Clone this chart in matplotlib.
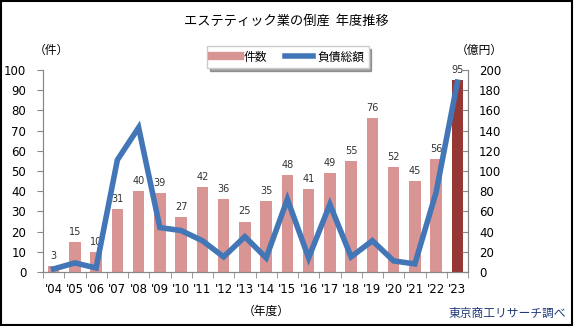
import numpy as np
import matplotlib.pyplot as plt
from matplotlib.lines import Line2D

plt.rcParams['font.family'] = ['Noto Sans CJK JP', 'DejaVu Sans']

years = ["'04", "'05", "'06", "'07", "'08", "'09", "'10", "'11", "'12", "'13",
         "'14", "'15", "'16", "'17", "'18", "'19", "'20", "'21", "'22", "'23"]
counts = [3, 15, 10, 31, 40, 39, 27, 42, 36, 25, 35, 48, 41, 49, 55, 76, 52, 45, 56, 95]
debt = [3, 9, 4, 111, 143, 44, 41, 31, 15, 35, 14, 72, 14, 67, 15, 31, 11, 8, 79, 188]

pink = "#D99594"
dark = "#953735"
blue = "#4276B6"

fig = plt.figure(figsize=(5.74, 3.26), dpi=100)
ax = fig.add_axes([43/574, 54/326, 425/574, 202/326])
ax2 = ax.twinx()

x = np.arange(len(years))
colors = [pink] * (len(years) - 1) + [dark]
ax.bar(x, counts, width=0.55, color=colors, zorder=1)
for xi, c in zip(x, counts):
    ax.text(xi, c + 2.5, str(c), ha='center', va='bottom', fontsize=7, color='#333333',
            family='DejaVu Sans')

ax2.plot(x, debt, color=blue, lw=4, solid_joinstyle='miter', zorder=3)
ax.set_zorder(ax2.get_zorder() - 1)
ax.patch.set_visible(False)
ax2.patch.set_visible(False)

ax.set_xlim(-0.5, len(years) - 0.5)
ax.set_ylim(0, 100)
ax2.set_ylim(0, 200)
ax.set_yticks(range(0, 101, 10))
ax2.set_yticks(range(0, 201, 20))
ax.set_xticks(x)
ax.set_xticklabels(years)
ax.set_xticks(np.arange(-0.5, len(years), 1), minor=True)
ax.tick_params(axis='x', which='major', length=0, pad=8, labelsize=8.5)
ax.tick_params(axis='x', which='minor', length=4, direction='out', color='#888888')
ax.tick_params(axis='y', length=4, direction='out', color='#888888', labelsize=8.5, pad=8)
ax2.tick_params(axis='y', length=4, direction='in', color='#888888', labelsize=8.5, pad=8)
for lab in ax.get_xticklabels() + ax.get_yticklabels() + ax2.get_yticklabels():
    lab.set_family('DejaVu Sans')

for a in (ax, ax2):
    a.spines['top'].set_visible(False)
    for s in ('left', 'right', 'bottom'):
        a.spines[s].set_color('#888888')

fig.text(286/574, 1 - 21/326, 'エステティック業の倒産  年度推移', ha='center', va='center', fontsize=9.5)
fig.text(51/574, 1 - 50/326, '（件）', ha='center', va='center', fontsize=8.5)
fig.text(479/574, 1 - 50/326, '（億円）', ha='center', va='center', fontsize=8.5)
fig.text(266/574, 1 - 311/326, '（年度）', ha='center', va='center', fontsize=8.5)
fig.text(566/574, 1 - 313/326, '東京商工リサーチ調べ', ha='right', va='center', fontsize=8.5,
         color='#1F3A78')

handles = [Line2D([0], [0], color=pink, lw=6), Line2D([0], [0], color=blue, lw=4)]
leg = fig.legend(handles, ['件数', '負債総額'], loc='center', bbox_to_anchor=(288/574, 1 - 57/326),
                 ncol=2, frameon=True, shadow=True, fancybox=False, fontsize=8.5,
                 handlelength=2.4, handletextpad=0.3, columnspacing=1.5, borderpad=0.4)
leg.get_frame().set_edgecolor('#cccccc')

fig.patches.append(plt.Rectangle((0.002, 0.003), 0.995, 0.994, transform=fig.transFigure,
                                 fill=False, edgecolor='black', lw=1.5))

fig.savefig('out.png', dpi=100)
